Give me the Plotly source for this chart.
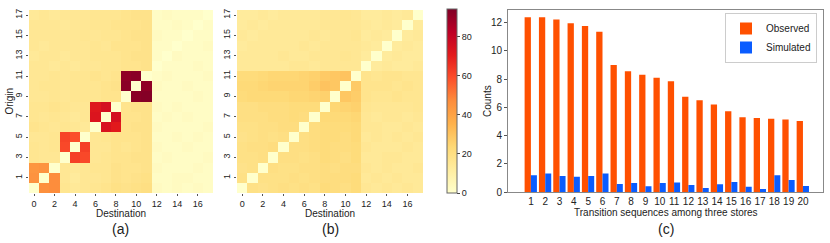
import plotly.graph_objects as go

# ---------------- data ----------------
idx = list(range(18))

observed_matrix = [
    [0, 46, 47, 16, 14, 15, 16, 17, 19, 18, 19, 20, 3, 2, 3, 2, 3, 2],
    [45, 0, 47, 15, 13, 15, 15, 16, 18, 17, 18, 19, 2, 2, 3, 3, 2, 2],
    [44, 45, 0, 15, 14, 15, 16, 16, 18, 17, 17, 18, 3, 2, 2, 2, 3, 2],
    [16, 15, 15, 0, 62, 60, 15, 16, 17, 17, 18, 18, 2, 3, 2, 2, 2, 3],
    [16, 15, 16, 60, 0, 62, 15, 15, 17, 16, 17, 18, 3, 2, 2, 3, 2, 2],
    [15, 15, 16, 61, 59, 0, 15, 16, 17, 17, 17, 18, 2, 2, 3, 2, 3, 2],
    [17, 16, 15, 16, 15, 14, 0, 74, 71, 17, 18, 18, 3, 2, 2, 2, 2, 3],
    [16, 15, 16, 15, 14, 15, 73, 0, 75, 17, 17, 18, 2, 3, 2, 3, 2, 2],
    [16, 16, 17, 16, 15, 15, 72, 75, 0, 17, 18, 18, 3, 2, 3, 2, 2, 2],
    [15, 15, 16, 15, 16, 16, 16, 17, 17, 0, 92, 93, 2, 2, 2, 2, 3, 2],
    [15, 16, 16, 15, 16, 16, 16, 17, 18, 92, 0, 91, 3, 2, 2, 3, 2, 2],
    [15, 15, 16, 15, 16, 16, 17, 16, 17, 91, 92, 0, 2, 3, 2, 2, 2, 3],
    [15, 15, 14, 15, 14, 15, 15, 16, 16, 17, 17, 18, 0, 2, 2, 2, 3, 2],
    [14, 15, 15, 14, 15, 15, 16, 16, 16, 17, 18, 18, 2, 0, 3, 2, 2, 2],
    [15, 14, 15, 15, 15, 15, 16, 15, 17, 17, 17, 18, 2, 2, 0, 2, 2, 3],
    [15, 15, 15, 15, 15, 16, 15, 16, 16, 17, 18, 18, 3, 2, 2, 0, 2, 2],
    [15, 15, 15, 14, 15, 15, 16, 16, 17, 17, 17, 18, 2, 2, 3, 2, 0, 2],
    [14, 15, 14, 15, 15, 15, 16, 16, 16, 17, 18, 18, 2, 3, 2, 2, 2, 0],
]

simulated_matrix = [
    [0, 19, 18, 19, 20, 19, 20, 19, 22, 21, 20, 22, 15, 14, 15, 14, 15, 14],
    [19, 0, 19, 19, 19, 20, 19, 20, 21, 21, 21, 22, 14, 15, 14, 15, 14, 14],
    [18, 19, 0, 20, 19, 19, 20, 20, 21, 20, 21, 21, 15, 14, 15, 14, 14, 15],
    [19, 19, 20, 0, 20, 20, 19, 20, 22, 21, 20, 22, 14, 14, 15, 15, 14, 14],
    [19, 20, 20, 21, 0, 20, 20, 21, 22, 21, 21, 22, 15, 14, 14, 14, 15, 14],
    [18, 19, 20, 19, 20, 0, 20, 21, 22, 22, 21, 23, 14, 15, 14, 15, 14, 15],
    [19, 19, 20, 20, 21, 21, 0, 21, 22, 22, 22, 23, 15, 15, 14, 14, 15, 14],
    [20, 20, 20, 21, 21, 22, 21, 0, 23, 23, 23, 24, 15, 14, 15, 15, 14, 15],
    [20, 20, 21, 21, 21, 22, 22, 22, 0, 24, 25, 26, 16, 15, 15, 15, 15, 16],
    [22, 23, 23, 23, 23, 24, 24, 25, 26, 0, 29, 27, 17, 16, 16, 17, 16, 16],
    [23, 23, 24, 25, 25, 25, 25, 27, 30, 29, 0, 28, 17, 17, 17, 16, 17, 16],
    [22, 22, 23, 24, 24, 24, 25, 26, 28, 29, 30, 0, 17, 16, 17, 17, 16, 16],
    [14, 14, 14, 14, 14, 15, 15, 14, 15, 15, 15, 15, 0, 13, 14, 13, 13, 14],
    [14, 14, 14, 14, 15, 14, 14, 15, 15, 15, 16, 15, 13, 0, 13, 14, 13, 13],
    [13, 14, 14, 14, 14, 14, 15, 14, 15, 15, 15, 15, 14, 13, 0, 13, 14, 13],
    [14, 13, 14, 14, 14, 14, 14, 15, 14, 15, 15, 16, 13, 14, 13, 0, 13, 14],
    [13, 14, 13, 14, 14, 14, 14, 14, 15, 15, 15, 15, 14, 13, 14, 13, 0, 13],
    [13, 13, 14, 13, 14, 14, 14, 14, 15, 15, 16, 15, 13, 13, 14, 13, 14, 0],
]

sequences = list(range(1, 21))
observed_counts = [12.37, 12.37, 12.2, 11.95, 11.75, 11.35, 9.0, 8.55, 8.3, 8.1,
                   7.85, 6.75, 6.5, 6.2, 5.73, 5.31, 5.25, 5.2, 5.15, 5.04]
simulated_counts = [1.21, 1.32, 1.16, 1.09, 1.16, 1.32, 0.59, 0.66, 0.43, 0.66,
                    0.69, 0.52, 0.31, 0.57, 0.73, 0.40, 0.24, 1.21, 0.87, 0.45]

heat_xticks = list(range(0, 18, 2))
heat_yticks = list(range(1, 18, 2))
bar_yticks = list(range(0, 13, 2))
cbar_ticks = [0, 20, 40, 60, 80]

# ---------------- style ----------------
W, H = 830, 243
FONT = "Liberation Sans, Arial, Helvetica, sans-serif"
ylorrd = [[0.0, "#ffffcc"], [0.125, "#ffeda0"], [0.25, "#fed976"], [0.375, "#feb24c"],
          [0.5, "#fd8d3c"], [0.625, "#fc4e2a"], [0.75, "#e31a1c"], [0.875, "#bd0026"],
          [1.0, "#800026"]]
ZMAX = 94


def px_x(p):
    return p / W


def px_y(p):
    return 1 - p / H


fig = go.Figure()

fig.add_trace(go.Heatmap(
    z=observed_matrix, x=idx, y=idx, colorscale=ylorrd, zmin=0, zmax=ZMAX,
    xaxis="x", yaxis="y", showscale=False, hoverinfo="skip"))

fig.add_trace(go.Heatmap(
    z=simulated_matrix, x=idx, y=idx, colorscale=ylorrd, zmin=0, zmax=ZMAX,
    xaxis="x2", yaxis="y2", hoverinfo="skip",
    colorbar=dict(
        x=px_x(447), xanchor="left", xpad=0, ypad=0,
        y=(px_y(9) + px_y(193)) / 2, yanchor="middle",
        len=(193 - 9) / H, lenmode="fraction", thickness=10,
        outlinecolor="#666666", outlinewidth=1,
        tickvals=cbar_ticks, ticks="outside", ticklen=3, tickcolor="#444",
        tickfont=dict(family=FONT, size=9, color="#222")),
))

fig.add_trace(go.Bar(x=sequences, y=observed_counts, name="Observed",
                     marker=dict(color="#FF5000", line=dict(width=0)),
                     xaxis="x3", yaxis="y3", offset=-0.44, width=0.44))
fig.add_trace(go.Bar(x=sequences, y=simulated_counts, name="Simulated",
                     marker=dict(color="#0A5CFF", line=dict(width=0)),
                     xaxis="x3", yaxis="y3", offset=0.0, width=0.42))

heat_y_dom = [px_y(193), px_y(10)]
heat_axis_common = dict(range=[-0.5, 17.5], showgrid=False, zeroline=False,
                        automargin=False,
                        ticks="outside", ticklen=2, tickcolor="#555", showline=False,
                        tickfont=dict(family=FONT, size=9, color="#222"))

fig.update_layout(
    width=W, height=H,
    margin=dict(l=0, r=0, t=0, b=0, autoexpand=False),
    paper_bgcolor="white", plot_bgcolor="white",
    font=dict(family=FONT, color="#222"),
    barmode="overlay",
    xaxis=dict(domain=[px_x(29), px_x(213)], anchor="y", tickvals=heat_xticks,
               **heat_axis_common),
    yaxis=dict(domain=heat_y_dom, anchor="x", tickvals=heat_yticks, tickangle=-90,
               **heat_axis_common),
    xaxis2=dict(domain=[px_x(237), px_x(423)], anchor="y2", tickvals=heat_xticks,
                **heat_axis_common),
    yaxis2=dict(domain=heat_y_dom, anchor="x2", tickvals=heat_yticks, tickangle=-90,
                **heat_axis_common),
    xaxis3=dict(domain=[px_x(508), px_x(823)], anchor="y3", range=[-0.6, 21.4],
                tickvals=sequences, showgrid=False, zeroline=False, automargin=False,
                showline=True, linecolor="#888", linewidth=1, mirror=True,
                ticks="", tickfont=dict(family=FONT, size=10, color="#222")),
    yaxis3=dict(domain=[px_y(192.3), px_y(10)], anchor="x3", range=[0, 12.88],
                tickvals=bar_yticks, showgrid=False, zeroline=False, automargin=False,
                showline=True, linecolor="#888", linewidth=1, mirror=True,
                ticks="outside", ticklen=3, tickcolor="#555",
                tickfont=dict(family=FONT, size=10, color="#222")),
    legend=dict(x=px_x(817), xanchor="right", y=px_y(13), yanchor="top",
                bgcolor="white", bordercolor="#cccccc", borderwidth=1,
                font=dict(family=FONT, size=10, color="#222"),
                itemsizing="constant", tracegroupgap=0),
    showlegend=True,
)

annots = [
    dict(text="Destination", x=px_x(121), y=px_y(213), size=10, angle=0),
    dict(text="Destination", x=px_x(330), y=px_y(213), size=10, angle=0),
    dict(text="Origin", x=px_x(8.5), y=px_y(101), size=10, angle=-90),
    dict(text="Counts", x=px_x(487), y=px_y(101), size=10, angle=-90),
    dict(text="Transition sequences among three stores", x=px_x(666), y=px_y(212), size=10, angle=0),
    dict(text="(a)", x=px_x(120), y=px_y(228.5), size=14, angle=0),
    dict(text="(b)", x=px_x(330), y=px_y(228.5), size=14, angle=0),
    dict(text="(c)", x=px_x(666), y=px_y(228.5), size=14, angle=0),
]
for a in annots:
    fig.add_annotation(text=a["text"], x=a["x"], y=a["y"], xref="paper", yref="paper",
                       xanchor="center", yanchor="middle", showarrow=False,
                       textangle=a["angle"],
                       font=dict(family=FONT, size=a["size"], color="#222"))

# remove the browser's default 8px body margin so the figure sits at (0, 0)
fig.write_html("out.html", config={"displayModeBar": False},
               post_script="document.body.style.margin='0';document.body.style.overflow='hidden';")
